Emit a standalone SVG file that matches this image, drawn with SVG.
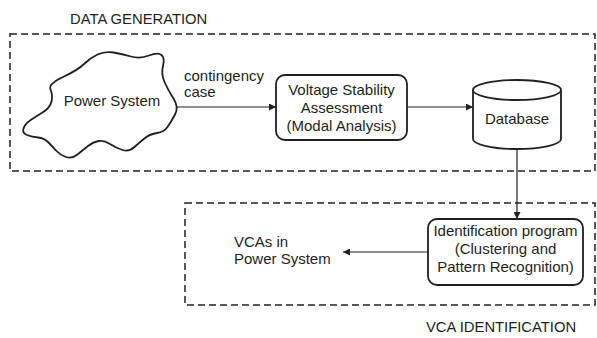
<svg xmlns="http://www.w3.org/2000/svg" width="597" height="338" viewBox="0 0 597 338">
<style>
text{font-family:"Liberation Sans",Arial,sans-serif;fill:#231f20;font-size:15px}
.title{font-size:14.8px}
.c{text-anchor:middle}
.dash{fill:none;stroke:#231f20;stroke-width:1.5;stroke-dasharray:7,4}
.shape{fill:#fff;stroke:#231f20;stroke-width:1.8}
.conn{fill:none;stroke:#231f20;stroke-width:1.2;marker-end:url(#ah)}
</style>
<defs>
<marker id="ah" viewBox="0 0 10 10" refX="10" refY="5" markerWidth="7" markerHeight="7" markerUnits="userSpaceOnUse" orient="auto">
<path d="M0,0 L10,5 L0,10 z" fill="#231f20"/>
</marker>
</defs>
<rect fill="#fff" width="597" height="338"/>
<g id="data-generation">
<rect class="dash" x="10" y="34" width="585" height="137"/>
<text class="title" x="70" y="24">DATA GENERATION</text>
</g>
<g id="vca-identification">
<rect class="dash" x="185" y="203" width="410" height="102"/>
<text class="title" x="426" y="332">VCA IDENTIFICATION</text>
</g>
<g id="connectors">
<line class="conn" x1="176" y1="107" x2="276" y2="107"/>
<line class="conn" x1="407" y1="107" x2="473" y2="107"/>
<line class="conn" x1="517" y1="149" x2="517" y2="219"/>
<line class="conn" x1="428" y1="252" x2="343" y2="252"/>
<text x="184" y="81">contingency</text>
<text x="184" y="97">case</text>
</g>
<g id="power-system">
<path class="shape" d="M50.5,89.5 Q48,84 63,77 Q78,70 84,64 Q90,58 97.5,54.5 Q105,51 113.5,52.5 Q122,54 131,56.5 Q140,59 149,55.5 Q158,52 161.5,55 Q165,58 163,66 Q161,74 164.5,82 Q168,90 173.5,98.5 Q179,107 175,114.5 Q171,122 167.5,127 Q164,132 157,133 Q150,134 145,138 Q140,142 134.5,147 Q129,152 122.5,150 Q116,148 110,144 Q104,140 98.5,141 Q93,142 88,146 Q83,150 77.5,154.5 Q72,159 66,157 Q60,155 56,150.5 Q52,146 48,142 Q44,138 38,137.5 Q32,137 27,135 Q22,133 23.5,128.5 Q25,124 30,120.5 Q35,117 42.5,112.5 Q50,108 51.5,101.5 Q53,95 50.5,89.5 Z"/>
<text class="c" x="112" y="106">Power System</text>
</g>
<g id="vsa">
<rect class="shape" x="276" y="75" width="131" height="65" rx="9"/>
<text class="c" x="341.5" y="95">Voltage Stability</text>
<text class="c" x="341.5" y="113">Assessment</text>
<text class="c" x="341.5" y="131">(Modal Analysis)</text>
</g>
<g id="database">
<path class="shape" d="M473,90 L473,139 A44,10 0 0 0 561,139 L561,90"/>
<ellipse class="shape" cx="517" cy="90" rx="44" ry="10"/>
<text class="c" x="517" y="124">Database</text>
</g>
<g id="identification">
<rect class="shape" x="428" y="219" width="155" height="66" rx="9"/>
<text class="c" x="505.5" y="236">Identification program</text>
<text class="c" x="505.5" y="254">(Clustering and</text>
<text class="c" x="505.5" y="272">Pattern Recognition)</text>
</g>
<g id="vcas">
<text x="234" y="247">VCAs in</text>
<text x="234" y="264">Power System</text>
</g>
</svg>
